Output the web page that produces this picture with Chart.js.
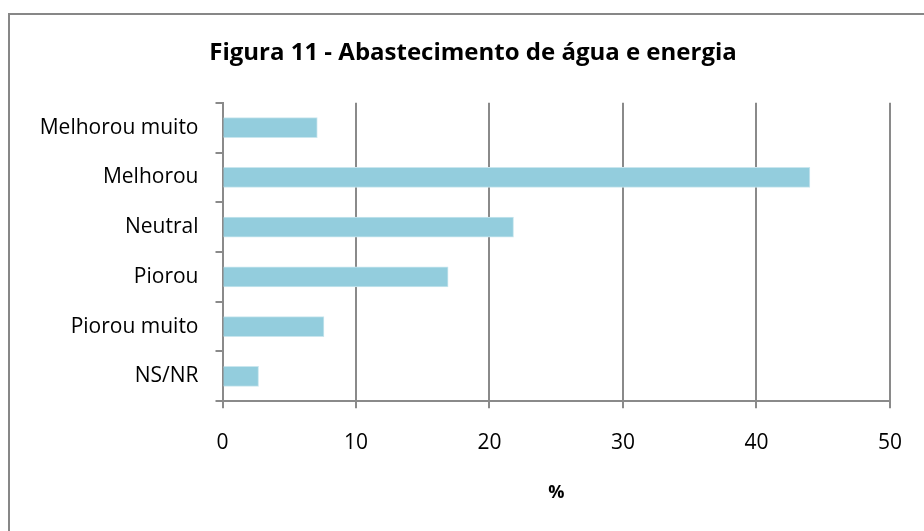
<!DOCTYPE html>
<html>
<head>
<meta charset="utf-8">
<script src="https://cdn.jsdelivr.net/npm/chart.js@4"></script>
<style>
  html, body { margin: 0; padding: 0; background: #fff; width: 924px; height: 531px; overflow: hidden; }
  #frame { position: absolute; left: 8px; top: 13px; width: 1000px; height: 1000px; border-left: 2px solid #878787; border-top: 2px solid #878787; }
  #c { position: absolute; left: 0; top: 0; }
</style>
</head>
<body>
<div id="frame"></div>
<canvas id="c" width="924" height="531"></canvas>
<script>
const categories = ["Melhorou muito", "Melhorou", "Neutral", "Piorou", "Piorou muito", "NS/NR"];
const values = [7.1, 44.0, 21.8, 16.9, 7.6, 2.7];
const xTicks = [0, 10, 20, 30, 40, 50];
const chartTitle = "Figura 11 - Abastecimento de água e energia";
const xTitle = "%";

const FONT = "'Open Sans', 'Liberation Sans', sans-serif";
const GRID = '#8a8a8a';

const titleShift = {
  id: 'titleShift',
  afterLayout(chart) {
    const t = chart.titleBlock;
    if (t) { t.left = 22; t.right = 924; t.width = 902; }
  }
};

new Chart(document.getElementById('c'), {
  type: 'bar',
  data: {
    labels: categories,
    datasets: [{
      data: values,
      backgroundColor: '#93CDDD',
      borderColor: '#c9e6ee',
      borderWidth: 1,
      barThickness: 20
    }]
  },
  plugins: [titleShift],
  options: {
    indexAxis: 'y',
    responsive: false,
    animation: false,
    devicePixelRatio: 1,
    layout: { padding: { left: 20, right: 28, top: 0, bottom: 27 } },
    plugins: {
      legend: { display: false },
      tooltip: { enabled: false },
      title: {
        display: true,
        text: chartTitle,
        color: '#000',
        font: { family: FONT, size: 24, weight: 'bold' },
        padding: { top: 39, bottom: 35 }
      }
    },
    scales: {
      x: {
        min: 0, max: 50,
        afterBuildTicks: (s) => { s.ticks = xTicks.map(v => ({ value: v })); },
        grid: { color: GRID, lineWidth: 2, tickLength: 7, drawTicks: true },
        border: { color: GRID, width: 2 },
        ticks: { color: '#000', font: { family: FONT, size: 21 }, padding: 22, maxRotation: 0 },
        title: { display: true, text: xTitle, color: '#000', font: { family: FONT, size: 18, weight: 'bold' }, padding: { top: 5, bottom: 0 } }
      },
      y: {
        afterFit: (s) => { s.width = 202.5; },
        grid: { color: GRID, lineWidth: 2, tickLength: 7, drawOnChartArea: false, drawTicks: true, offset: true },
        border: { color: GRID, width: 2 },
        ticks: { color: '#000', font: { family: FONT, size: 21 }, padding: 17 }
      }
    }
  }
});
</script>
</body>
</html>
